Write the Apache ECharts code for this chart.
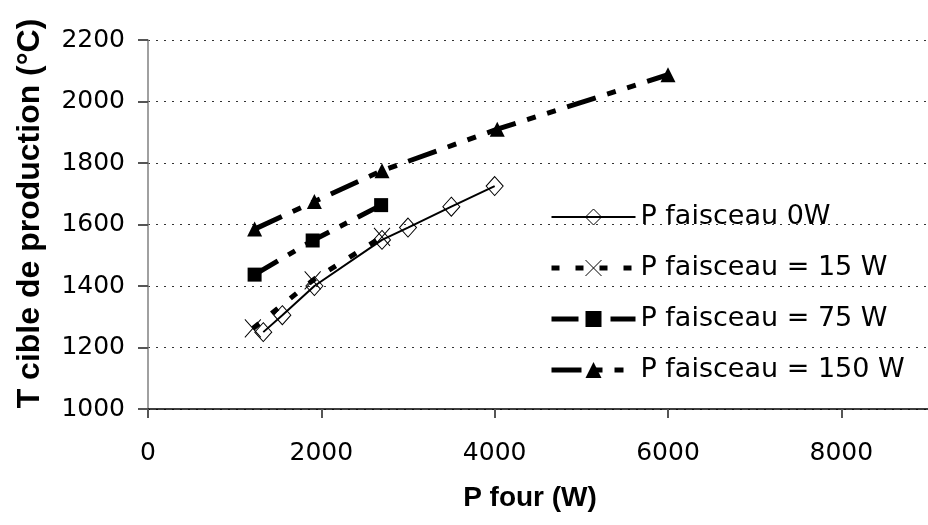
<!DOCTYPE html>
<html>
<head>
<meta charset="utf-8">
<script src="https://cdn.jsdelivr.net/npm/echarts@6/dist/echarts.min.js"></script>
<style>
  html, body { margin: 0; padding: 0; background: #fff; }
  #chart { width: 928px; height: 525px; }
</style>
</head>
<body>
<div id="chart"></div>
<script>
// data
var seriesNames = ['P faisceau 0W', 'P faisceau = 15 W', 'P faisceau = 75 W', 'P faisceau = 150 W'];

var four0W = [1330, 1550, 1920, 2700, 3000, 3500, 4000];
var temp0W = [1250, 1305, 1400, 1550, 1590, 1658, 1725];

var four15W = [1210, 1900, 2700];
var temp15W = [1262, 1418, 1560];

var four75W = [1230, 1900, 2690];
var temp75W = [1437, 1548, 1663];

var four150W = [1230, 1920, 2700, 4030, 6000];
var temp150W = [1585, 1675, 1775, 1910, 2087];

function pairs(xs, ys) {
  return xs.map(function (x, i) { return [x, ys[i]]; });
}

function plain(v) {
  return String(v);
}

var chart = echarts.init(document.getElementById('chart'), null, { renderer: 'canvas' });

var option = {
  backgroundColor: '#ffffff',
  animation: false,
  grid: {
    left: 148,
    top: 40,
    right: -10,
    bottom: 116
  },
  legend: {
    orient: 'vertical',
    left: 549,
    top: 202,
    padding: 0,
    itemWidth: 84,
    itemHeight: 20,
    itemGap: 21,
    selectedMode: false,
    lineStyle: { width: 'inherit' },
    itemStyle: { borderWidth: 'inherit' },
    textStyle: {
      fontFamily: 'DejaVu Sans',
      fontSize: 27,
      lineHeight: 30,
      color: '#000'
    },
    data: seriesNames
  },
  xAxis: {
    type: 'value',
    min: 0,
    max: 9000,
    interval: 2000,
    name: 'P four (W)',
    nameLocation: 'middle',
    nameGap: 75,
    nameTextStyle: {
      fontFamily: 'Liberation Sans',
      fontWeight: 'bold',
      fontSize: 28,
      color: '#000',
      padding: [0, 16, 0, 0]
    },
    axisLine: { show: true, lineStyle: { color: '#000', width: 1.5 } },
    axisTick: { show: true, inside: false, length: 9, lineStyle: { color: '#555', width: 2 } },
    axisLabel: {
      showMaxLabel: false,
      margin: 32,
      fontFamily: 'DejaVu Sans',
      fontSize: 25,
      color: '#000',
      formatter: plain
    },
    splitLine: { show: false }
  },
  yAxis: {
    type: 'value',
    min: 1000,
    max: 2200,
    interval: 200,
    name: 'T cible de production (°C)',
    nameLocation: 'middle',
    nameRotate: 90,
    nameGap: 102,
    nameTextStyle: {
      fontFamily: 'Liberation Sans',
      fontWeight: 'bold',
      fontSize: 32,
      color: '#000',
      padding: [0, 0, 0, 22]
    },
    axisLine: { show: true, lineStyle: { color: '#808080', width: 1.5 } },
    axisTick: { show: true, inside: false, length: 10, lineStyle: { color: '#555', width: 2 } },
    axisLabel: {
      margin: 23,
      fontFamily: 'DejaVu Sans',
      fontSize: 25,
      color: '#000',
      formatter: plain
    },
    splitLine: {
      show: true,
      lineStyle: { color: '#333', width: 1, type: [2, 6] }
    }
  },
  series: [
    {
      name: seriesNames[0],
      type: 'line',
      data: pairs(four0W, temp0W),
      symbol: 'diamond',
      symbolSize: [17, 19],
      itemStyle: { color: 'rgba(255,255,255,0)', borderColor: '#000', borderWidth: 1 },
      lineStyle: { color: '#000', width: 2, type: 'solid' }
    },
    {
      name: seriesNames[1],
      type: 'line',
      data: pairs(four15W, temp15W),
      symbol: 'path://M0,0L10,10M10,0L0,10',
      symbolSize: [16, 18],
      itemStyle: { color: 'rgba(255,255,255,0)', borderColor: '#000', borderWidth: 1 },
      lineStyle: { color: '#000', width: 5, type: [8, 16], cap: 'butt' }
    },
    {
      name: seriesNames[2],
      type: 'line',
      data: pairs(four75W, temp75W),
      symbol: 'rect',
      symbolSize: 14,
      itemStyle: { color: '#000' },
      lineStyle: { color: '#000', width: 5, type: [27, 12, 8, 12], cap: 'butt' }
    },
    {
      name: seriesNames[3],
      type: 'line',
      data: pairs(four150W, temp150W),
      symbol: 'triangle',
      symbolSize: 15,
      itemStyle: { color: '#000' },
      lineStyle: { color: '#000', width: 5, type: [30, 12, 9, 12, 9, 12], cap: 'butt' }
    }
  ]
};

chart.setOption(option);
</script>
</body>
</html>
